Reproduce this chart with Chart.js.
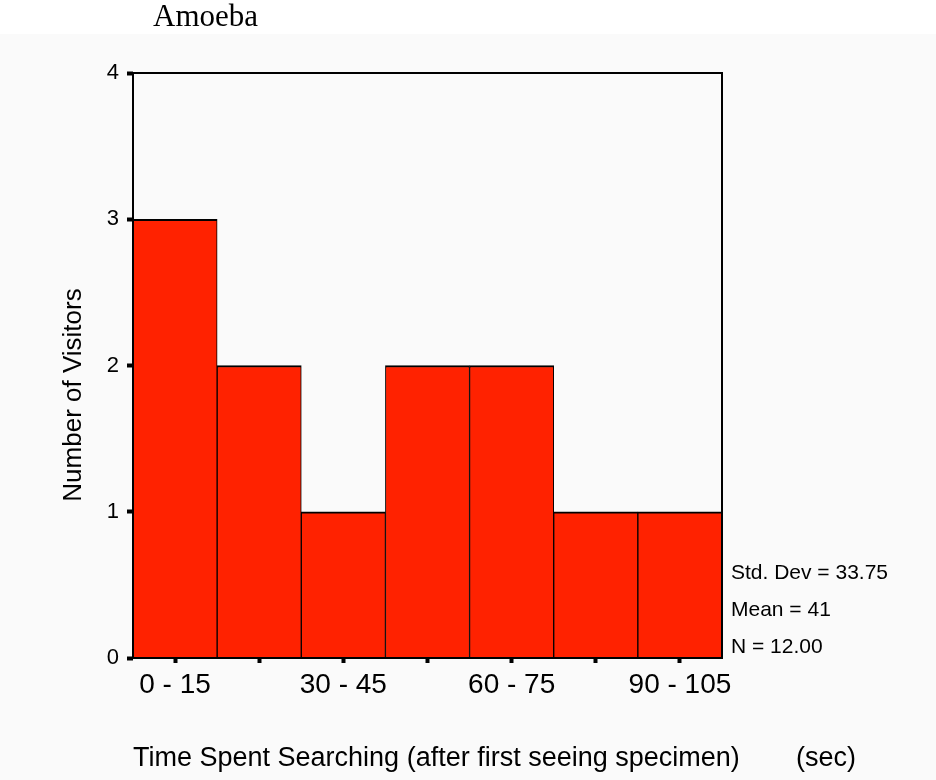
<!DOCTYPE html>
<html>
<head>
<meta charset="utf-8">
<script src="https://cdn.jsdelivr.net/npm/chart.js@4"></script>
<style>
  body { margin: 0; background: #fafafa; }
  #wrap { width: 936px; height: 780px; }
</style>
</head>
<body>
<div id="wrap"><canvas id="amoeba" width="936" height="780"></canvas></div>
<script>
const chartTitle = 'Amoeba';
const bins = ['0 - 15', '15 - 30', '30 - 45', '45 - 60', '60 - 75', '75 - 90', '90 - 105'];
const visitors = [3, 2, 1, 2, 2, 1, 1];
const yMin = 0;
const yMax = 4;
const yLabel = 'Number of Visitors';
const xLabel = 'Time Spent Searching (after first seeing specimen)';
const xUnit = '(sec)';
const stats = ['Std. Dev = 33.75', 'Mean = 41', 'N = 12.00'];

const sans = 'Arial, "Liberation Sans", sans-serif';

// page background, frame and the SPSS-style side texts
const decor = {
    id: 'decor',
    beforeDraw(chart) {
        const ctx = chart.ctx;
        ctx.save();
        ctx.fillStyle = '#fafafa';
        ctx.fillRect(0, 0, chart.width, chart.height);
        ctx.fillStyle = '#ffffff';
        ctx.fillRect(0, 0, chart.width, 34);
        ctx.restore();
    },
    afterDraw(chart) {
        const ctx = chart.ctx;
        const a = chart.chartArea;
        ctx.save();
        ctx.strokeStyle = '#000';
        ctx.lineWidth = 2;
        ctx.strokeRect(a.left, a.top, a.right - a.left, a.bottom - a.top);

        ctx.fillStyle = '#000';
        ctx.font = '31px "Liberation Serif", "Times New Roman", serif';
        ctx.textAlign = 'left';
        ctx.textBaseline = 'alphabetic';
        ctx.fillText(chartTitle, 153, 26);

        ctx.font = '21px ' + sans;
        stats.forEach((s, i) => ctx.fillText(s, a.right + 9, 579 + i * 37));

        ctx.font = '27px ' + sans;
        ctx.fillText(xLabel, a.left, 766);
        ctx.textAlign = 'right';
        ctx.fillText(xUnit, 856, 766);

        ctx.font = '26px ' + sans;
        ctx.translate(81, 395);
        ctx.rotate(-Math.PI / 2);
        ctx.textAlign = 'center';
        ctx.fillText(yLabel, 0, 0);
        ctx.restore();
    }
};

new Chart(document.getElementById('amoeba'), {
    type: 'bar',
    data: {
        labels: bins,
        datasets: [{
            data: visitors,
            backgroundColor: '#ff2200',
            borderColor: '#000',
            borderWidth: { top: 2, left: 1, right: 1, bottom: 0 },
            borderSkipped: false,
            categoryPercentage: 1,
            barPercentage: 1
        }]
    },
    plugins: [decor],
    options: {
        responsive: false,
        devicePixelRatio: 1,
        animation: false,
        layout: { padding: { top: 73, right: 214, bottom: 0, left: 0 } },
        plugins: {
            legend: { display: false },
            title: { display: false },
            tooltip: { enabled: false }
        },
        scales: {
            x: {
                afterFit(scale) { scale.height = 122; },
                grid: {
                    offset: false,
                    drawOnChartArea: false,
                    tickLength: 5,
                    tickWidth: 4,
                    tickColor: '#000'
                },
                border: { display: false },
                ticks: {
                    color: '#000',
                    font: { family: sans, size: 28 },
                    padding: 5,
                    maxRotation: 0,
                    autoSkip: false,
                    callback(value, index) {
                        return index % 2 === 0 ? this.getLabelForValue(value) : '';
                    }
                }
            },
            y: {
                min: yMin,
                max: yMax,
                afterFit(scale) { scale.width = 133; },
                grid: {
                    drawOnChartArea: false,
                    tickLength: 6,
                    tickWidth: 4,
                    tickColor: '#000'
                },
                border: { display: false },
                ticks: {
                    stepSize: 1,
                    color: '#000',
                    font: { family: sans, size: 22 },
                    padding: 8
                }
            }
        }
    }
});
</script>
</body>
</html>
